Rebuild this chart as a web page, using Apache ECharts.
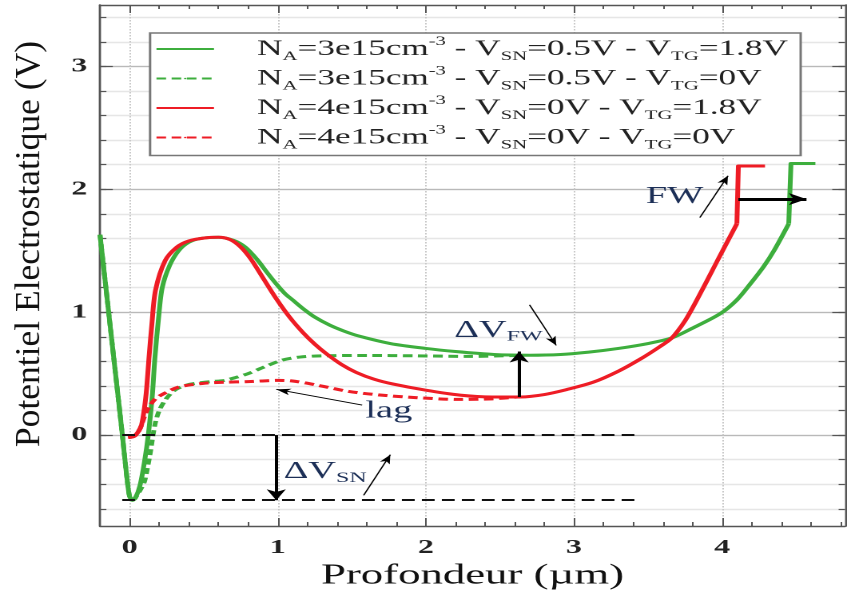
<!DOCTYPE html>
<html>
<head>
<meta charset="utf-8">
<script src="https://cdn.jsdelivr.net/npm/echarts@6/dist/echarts.min.js"></script>
<style>
html,body{margin:0;padding:0;background:#fff;overflow:hidden;}
#wrap{width:847px;height:596px;overflow:hidden;position:relative;}
#chart{width:530px;height:596px;transform:scaleX(1.5981);transform-origin:0 0;}
</style>
</head>
<body>
<div id="wrap"><div id="chart"></div></div>
<script>
// ---------- data ----------
const seriesNames = [
  'NA=3e15cm-3 - VSN=0.5V - VTG=1.8V',
  'NA=3e15cm-3 - VSN=0.5V - VTG=0V',
  'NA=4e15cm-3 - VSN=0V - VTG=1.8V',
  'NA=4e15cm-3 - VSN=0V - VTG=0V'
];
const legendRich = [
  '{sp|}{t|N}{sub|A}{t|=3e15cm}{sup|-3}{t| - V}{sub|SN}{t|=0.5V - V}{sub|TG}{t|=1.8V}',
  '{sp|}{t|N}{sub|A}{t|=3e15cm}{sup|-3}{t| - V}{sub|SN}{t|=0.5V - V}{sub|TG}{t|=0V}',
  '{sp|}{t|N}{sub|A}{t|=4e15cm}{sup|-3}{t| - V}{sub|SN}{t|=0V - V}{sub|TG}{t|=1.8V}',
  '{sp|}{t|N}{sub|A}{t|=4e15cm}{sup|-3}{t| - V}{sub|SN}{t|=0V - V}{sub|TG}{t|=0V}'
];
// NA=3e15, VSN=0.5V, VTG=1.8V (smooth part, then the full-well step)
const greenSolid = [[-0.2,1.63],[-0.15,1.09],[-0.1,0.55],[-0.05,0.01],[-0.02,-0.33],[0,-0.5],[0.02,-0.53],[0.04,-0.51],[0.07,-0.41],[0.1,-0.22],[0.126,0.0],[0.153,0.32],[0.17,0.62],[0.195,0.95],[0.22,1.2],[0.27,1.38],[0.33,1.5],[0.4,1.57],[0.48,1.6],[0.6,1.61],[0.7,1.585],[0.78,1.53],[0.86,1.43],[0.93,1.32],[0.99,1.23],[1.05,1.15],[1.1,1.1],[1.17,1.03],[1.25,0.96],[1.35,0.895],[1.45,0.845],[1.55,0.805],[1.76,0.745],[2.0,0.705],[2.2,0.68],[2.46,0.656],[2.7,0.65],[2.91,0.656],[3.1,0.675],[3.3,0.705],[3.5,0.745],[3.66,0.79],[3.8,0.87],[3.99,0.99],[4.1,1.1],[4.19,1.23],[4.28,1.37],[4.35,1.5],[4.45,1.72]];
const greenSolidStep = [[4.45,1.72],[4.465,2.21],[4.63,2.21]];
// NA=3e15, VSN=0.5V, VTG=0V
const greenDashed = [[-0.2,1.63],[-0.15,1.09],[-0.1,0.55],[-0.05,0.01],[-0.02,-0.33],[0,-0.5],[0.02,-0.53],[0.05,-0.49],[0.08,-0.43],[0.1,-0.38],[0.12,-0.27],[0.14,-0.14],[0.17,0.08],[0.2,0.2],[0.25,0.3],[0.31,0.37],[0.38,0.405],[0.44,0.42],[0.55,0.435],[0.64,0.445],[0.72,0.47],[0.8,0.5],[0.9,0.55],[1.03,0.61],[1.15,0.635],[1.3,0.645],[1.6,0.648],[1.93,0.645],[2.3,0.64],[2.61,0.648]];
// NA=4e15, VSN=0V, VTG=1.8V
const redSolid = [[-0.01,-0.02],[0.03,-0.01],[0.06,0.03],[0.08,0.08],[0.1,0.22],[0.115,0.38],[0.13,0.62],[0.15,0.9],[0.175,1.18],[0.24,1.42],[0.32,1.53],[0.4,1.58],[0.51,1.605],[0.6,1.61],[0.68,1.59],[0.75,1.53],[0.82,1.43],[0.9,1.28],[0.99,1.11],[1.08,0.96],[1.17,0.835],[1.25,0.74],[1.33,0.66],[1.43,0.575],[1.53,0.51],[1.65,0.455],[1.78,0.415],[2.0,0.365],[2.23,0.325],[2.45,0.31],[2.64,0.31],[2.8,0.33],[2.95,0.37],[3.13,0.43],[3.3,0.52],[3.45,0.62],[3.58,0.72],[3.66,0.79],[3.75,0.93],[3.83,1.1],[3.96,1.4],[4.1,1.72]];
const redSolidStep = [[4.1,1.72],[4.11,2.19],[4.29,2.19]];
// NA=4e15, VSN=0V, VTG=0V
const redDashed = [[-0.01,-0.02],[0.03,-0.01],[0.06,0.03],[0.08,0.08],[0.1,0.15],[0.126,0.22],[0.17,0.29],[0.22,0.33],[0.33,0.39],[0.49,0.42],[0.64,0.43],[0.8,0.435],[1.0,0.445],[1.1,0.44],[1.25,0.41],[1.48,0.355],[1.7,0.325],[1.93,0.305],[2.23,0.29],[2.45,0.295],[2.62,0.31]];

const xMajorTicks = [0,1,2,3,4];
const yMajorTicks = [0,1,2,3];
const xMinorTicks = [];
for (let i = 1; i <= 24; i++) xMinorTicks.push(+(i*0.2).toFixed(1));
const yMinorTicks = [];
for (let i = -3; i <= 17; i++) yMinorTicks.push(+(i*0.2).toFixed(1));

const xTitle = 'Profondeur (µm)';
const yTitle = 'Potentiel Electrostatique (V)';

// annotations (data coordinates)
const refLines = [[[-0.05,0],[3.41,0]], [[-0.05,-0.53],[3.41,-0.53]]];
const thickArrows = [[[0.99,0],[0.99,-0.53]], [[2.63,0.31],[2.63,0.68]], [[4.11,1.92],[4.57,1.92]]];
const thinArrows = [[[1.58,-0.49],[1.76,-0.16]], [[1.57,0.244],[0.99,0.372]], [[2.70,1.06],[2.88,0.73]], [[3.85,1.77],[4.04,2.11]]];
const annotTexts = [
  {pos:[1.32,-0.30], text:'{d|ΔV}{s|SN}'},
  {pos:[1.75,0.195], text:'{d|lag}'},
  {pos:[2.49,0.85], text:'{d|ΔV}{s|FW}'},
  {pos:[3.68,1.94], text:'{d|FW}'}
];

// ---------- chart ----------
const chart = echarts.init(document.getElementById('chart'), null, {width:530, height:596, devicePixelRatio:2});
const GREEN = '#3dae3d', RED = '#ee1c25';
const XMIN = -0.2, XMAX = 4.83, YMIN = -0.74, YMAX = 3.5;
const frame = {show:true, onZero:false, lineStyle:{color:'#555', width:1.4}};
const labelFont = {fontFamily:'Liberation Serif', fontWeight:'bold', fontSize:20, color:'#222'};

function xAx(pos, ticks, len, opts) {
  return Object.assign({type:'value', position:pos, min:XMIN, max:XMAX,
    axisLine: opts.line ? frame : {show:false, onZero:false},
    axisTick:{show:true, inside:true, length:len, customValues:ticks, lineStyle:{color:'#555', width:1}},
    axisLabel:{show:false}, splitLine:{show:false}}, opts.extra || {});
}
function yAx(pos, ticks, len, opts) {
  return Object.assign({type:'value', position:pos, min:YMIN, max:YMAX,
    axisLine: opts.line ? frame : {show:false, onZero:false},
    axisTick:{show:true, inside:true, length:len, customValues:ticks, lineStyle:{color:'#555', width:1.2}},
    axisLabel:{show:false}, splitLine:{show:false}}, opts.extra || {});
}

const lineSeries = (name, data, color, dashed, smooth) => ({
  name, type:'line', data, symbol:'none', smooth: smooth ? 0.3 : false,
  lineStyle:{color, width:3, type: dashed ? [6,3.5] : 'solid', join:'round'},
  itemStyle:{color}, emphasis:{disabled:true}, z:3
});

const mlData = [];
refLines.forEach(l => mlData.push([{coord:l[0], symbol:'none', lineStyle:{color:'#111', width:2, type:[8,4.5]}}, {coord:l[1], symbol:'none'}]));
thickArrows.forEach(l => mlData.push([{coord:l[0], symbol:'none', lineStyle:{color:'#000', width: l[0][0]===l[1][0] ? 2 : 3, type:'solid'}}, {coord:l[1], symbol:'arrow', symbolSize:[9,11]}]));
thinArrows.forEach(l => mlData.push([{coord:l[0], symbol:'none', lineStyle:{color:'#000', width:0.9, type:'solid'}}, {coord:l[1], symbol:'arrow', symbolSize:[5,9]}]));

const option = {
  animation:false,
  backgroundColor:'#fff',
  grid:{left:62.57, right:1.25, top:5, bottom:70, containLabel:false, outerBoundsMode:'none'},
  legend:{
    data:seriesNames, orient:'vertical', left:93.9, top:33,
    padding:[2,8,4,3], itemGap:1.5, itemWidth:36, itemHeight:2,
    backgroundColor:'#fff', borderColor:'#777', borderWidth:1.5, borderRadius:0,
    selectedMode:false,
    formatter: name => legendRich[seriesNames.indexOf(name)],
    textStyle:{
      fontFamily:'Liberation Serif', fontSize:22, color:'#222',
      rich:{
        sp:{width:22},
        t:{fontFamily:'Liberation Serif', fontSize:22, lineHeight:28, color:'#222'},
        sub:{fontFamily:'Liberation Serif', fontSize:13, lineHeight:13, verticalAlign:'bottom', color:'#222'},
        sup:{fontFamily:'Liberation Serif', fontSize:13, lineHeight:13, verticalAlign:'top', color:'#222'}
      }
    }
  },
  xAxis:[
    xAx('bottom', xMinorTicks, 4, {line:true, extra:{
      name:xTitle, nameLocation:'middle', nameGap:36,
      nameTextStyle:{fontFamily:'Liberation Serif', fontSize:28, color:'#111'}}}),
    xAx('bottom', xMajorTicks, 8, {line:false, extra:{
      axisLabel:Object.assign({show:true, margin:12, customValues:xMajorTicks}, labelFont),
      splitLine:{show:true, lineStyle:{color:'#c9c9c9', width:1, type:[1.5,1.5]}}}}),
    xAx('top', xMinorTicks, 4, {line:true}),
    xAx('top', xMajorTicks, 8, {line:false})
  ],
  yAxis:[
    yAx('left', yMinorTicks, 4, {line:true, extra:{
      splitLine:{show:true, lineStyle:{color:'#e6e6e6', width:1.4}}}}),
    yAx('left', yMajorTicks, 8, {line:false, extra:{
      axisLabel:Object.assign({show:true, margin:8, customValues:yMajorTicks}, labelFont),
      splitLine:{show:true, lineStyle:{color:'#b9b9b9', width:1.2}}}}),
    yAx('right', yMinorTicks, 4, {line:true}),
    yAx('right', yMajorTicks, 8, {line:false})
  ],
  graphic:[{
    type:'text', x:18.8, y:244, rotation:Math.PI/2, scaleX:1, scaleY:0.626,
    style:{text:yTitle, fontFamily:'Liberation Serif', fontSize:35.5, fill:'#111', align:'center', verticalAlign:'middle'},
    silent:true, z:10
  }],
  series:[
    lineSeries(seriesNames[0], greenSolid, GREEN, false, true),
    lineSeries(seriesNames[0], greenSolidStep, GREEN, false, false),
    lineSeries(seriesNames[1], greenDashed, GREEN, true, true),
    lineSeries(seriesNames[2], redSolid, RED, false, true),
    lineSeries(seriesNames[2], redSolidStep, RED, false, false),
    lineSeries(seriesNames[3], redDashed, RED, true, true),
    {
      name:'annotations', type:'line', data:[], silent:true, z:5,
      markLine:{silent:true, animation:false, symbol:['none','arrow'], label:{show:false}, emphasis:{disabled:true}, data:mlData},
      markPoint:{silent:true, animation:false, symbol:'circle', symbolSize:1, itemStyle:{color:'rgba(0,0,0,0)'},
        label:{show:true, position:'inside',
          rich:{
            d:{fontFamily:'Liberation Serif', fontSize:24, lineHeight:27, color:'#1c2f57'},
            s:{fontFamily:'Liberation Serif', fontSize:15, lineHeight:15, verticalAlign:'bottom', color:'#1c2f57'}
          }},
        data: annotTexts.map(a => ({coord:a.pos, value:0, label:{formatter:a.text}}))
      }
    }
  ]
};
chart.setOption(option);
</script>
</body>
</html>
